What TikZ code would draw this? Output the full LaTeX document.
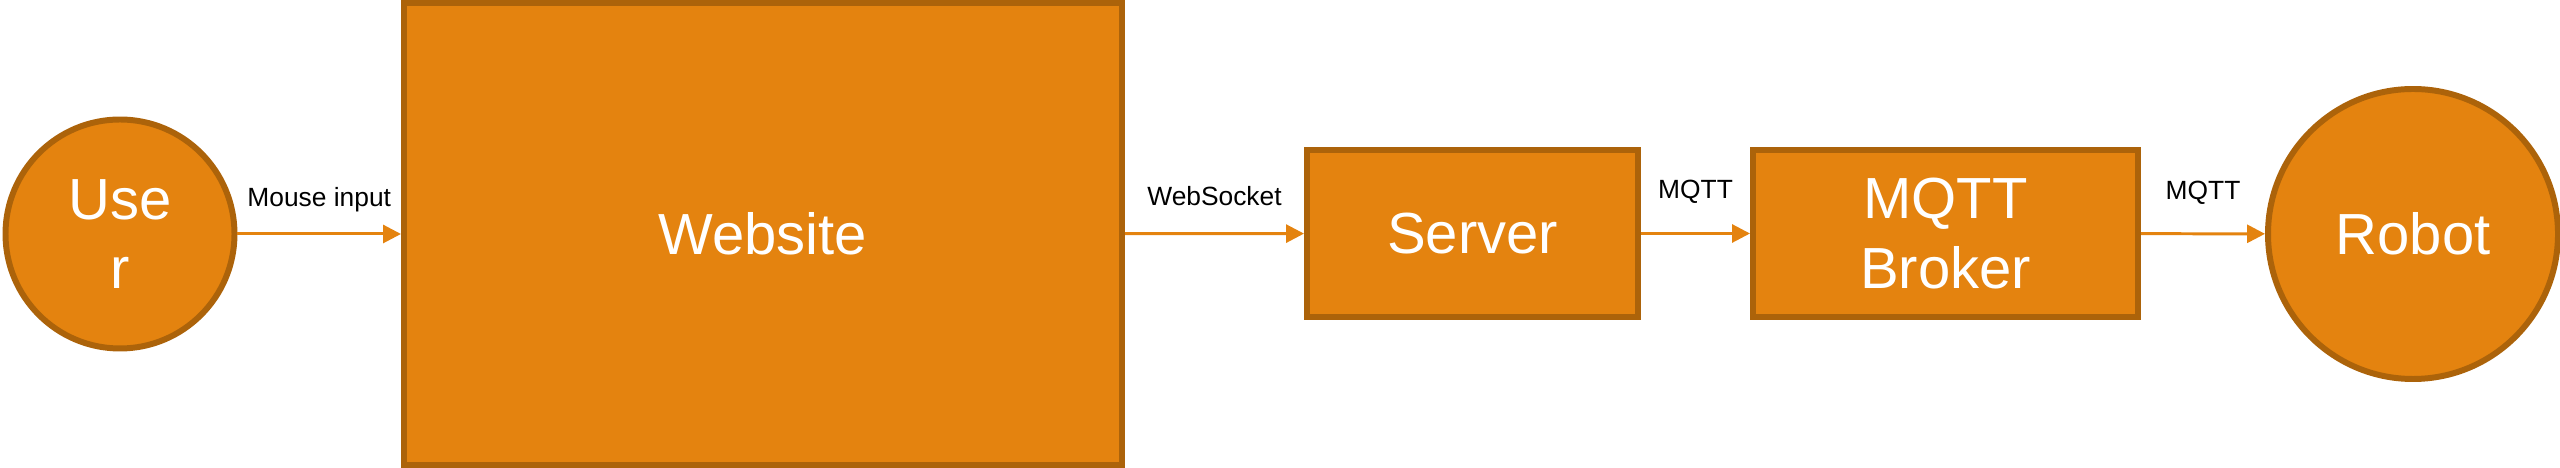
\documentclass[tikz,border=0pt]{standalone}
\usepackage{fontspec}
\setmainfont{Liberation Sans}
\usepackage{xcolor}
\usetikzlibrary{shapes,arrows.meta}

\definecolor{boxfill}{HTML}{E4830F}
\definecolor{boxline}{HTML}{AC630A}

\begin{document}
\begin{tikzpicture}[
				actor/.style={circle, draw=boxline, fill=boxfill, line width=1.7pt, inner sep=0pt, text=white, align=center, font=\fontsize{16.5}{19.8}\selectfont},
				block/.style={rectangle, draw=boxline, fill=boxfill, line width=1.7pt, inner sep=0pt, text=white, align=center, font=\fontsize{16.5}{19.8}\selectfont},
				link/.style={draw=boxfill, line width=0.85pt, -{Triangle[length=1.8mm, width=1.8mm]}},
				flow/.style={midway, inner sep=0pt, text depth=0pt, font=\fontsize{7.5}{9}\selectfont}
				]
				\useasboundingbox (0,0) rectangle (25.6,4.68);
				\node[actor, minimum size=2.29cm] (user) at (1.20,2.34) {Use\\r};
				\node[block, minimum width=7.18cm, minimum height=4.62cm] (website) at (7.63,2.34) {Website};
				\node[block, minimum width=3.31cm, minimum height=1.67cm] (server) at (14.725,2.345) {Server};
				\node[block, minimum width=3.85cm, minimum height=1.67cm] (broker) at (19.455,2.345) {MQTT\\Broker};
				\node[actor, minimum size=2.90cm] (robot) at (24.13,2.34) {Robot};
				
				\draw[link] (user) -- node[flow, above=2.6mm] {Mouse input} (website);
				\draw[link] (website) -- node[flow, above=2.7mm] {WebSocket} (server);
				\draw[link] (server) -- node[flow, above=3.3mm] {MQTT} (broker);
				\draw[link] (broker) -- node[flow, above=3.3mm] {MQTT} (robot);
			\end{tikzpicture}
\end{document}
